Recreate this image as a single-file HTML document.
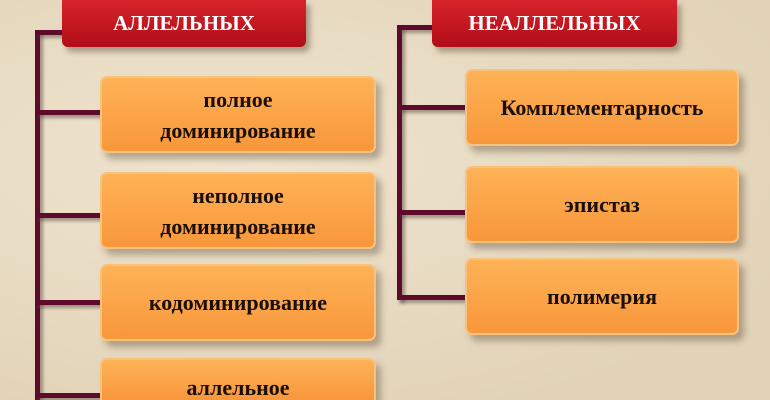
<!DOCTYPE html>
<html style="overflow:hidden;height:400px"><head><meta charset="utf-8"><style>
html,body{margin:0;width:770px;height:400px;overflow:hidden;}
body{background:#e9dcc4;position:relative;font-family:"Liberation Serif",serif;}
.bg{position:absolute;inset:0;background:radial-gradient(ellipse at 30% 40%,#efe4cf,#e2d3b8 80%);}
.red{position:absolute;height:47px;top:0;background:linear-gradient(#d8232b,#b00d18);border-radius:0 0 6px 6px;box-shadow:4px 5px 6px rgba(90,70,50,.45);color:#fff;font-weight:bold;font-size:21px;display:flex;align-items:center;justify-content:center;box-sizing:border-box;}
.or{position:absolute;background:linear-gradient(#ffb257,#f8973b);border:2px solid #f7c27e;border-radius:7px;box-sizing:border-box;box-shadow:5px 6px 7px rgba(90,70,50,.4);display:flex;align-items:center;justify-content:center;text-align:center;font-weight:bold;font-size:22px;line-height:31px;color:#1a0f08;}
.l{position:absolute;background:#5e0a2c;box-shadow:3px 3px 3px rgba(80,70,60,.5);}
</style></head><body><div class="bg"></div>
<div class="l" style="left:35px;top:30px;width:5px;height:370px"></div>
<div class="l" style="left:35px;top:30px;width:28px;height:5px"></div>
<div class="l" style="left:35px;top:110px;width:66px;height:5px"></div>
<div class="l" style="left:35px;top:213px;width:66px;height:5px"></div>
<div class="l" style="left:35px;top:300px;width:66px;height:5px"></div>
<div class="l" style="left:35px;top:393px;width:66px;height:5px"></div>
<div class="l" style="left:397px;top:25px;width:5px;height:275px"></div>
<div class="l" style="left:397px;top:25px;width:36px;height:5px"></div>
<div class="l" style="left:397px;top:105px;width:69px;height:5px"></div>
<div class="l" style="left:397px;top:210px;width:69px;height:5px"></div>
<div class="l" style="left:397px;top:295px;width:69px;height:5px"></div>
<div class="red" style="left:62px;width:244px">АЛЛЕЛЬНЫХ</div>
<div class="red" style="left:432px;width:245px">НЕАЛЛЕЛЬНЫХ</div>
<div class="or" style="left:100px;top:76px;width:276px;height:77px">полное<br>доминирование</div>
<div class="or" style="left:100px;top:172px;width:276px;height:77px">неполное<br>доминирование</div>
<div class="or" style="left:100px;top:264px;width:276px;height:77px">кодоминирование</div>
<div class="or" style="left:100px;top:358px;width:276px;height:42px;border-radius:7px 7px 0 0;border-bottom:none;align-items:flex-start;padding-top:12px">аллельное</div>
<div class="or" style="left:465px;top:69px;width:274px;height:77px">Комплементарность</div>
<div class="or" style="left:465px;top:166px;width:274px;height:77px">эпистаз</div>
<div class="or" style="left:465px;top:258px;width:274px;height:77px">полимерия</div>
</body></html>
